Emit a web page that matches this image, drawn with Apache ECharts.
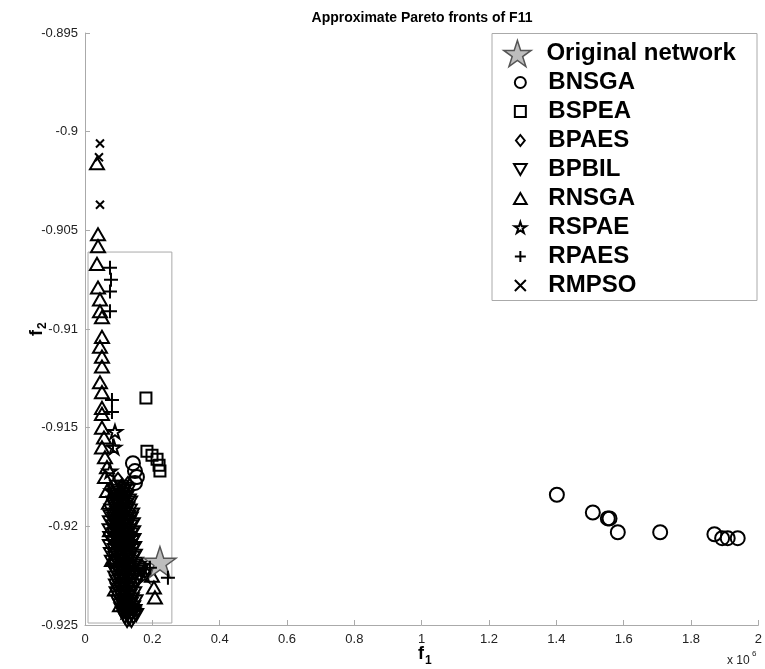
<!DOCTYPE html>
<html>
<head>
<meta charset="utf-8">
<script src="https://cdn.jsdelivr.net/npm/echarts@6/dist/echarts.min.js"></script>
<style>
  html, body { margin: 0; padding: 0; background: #fff; }
  #chart { width: 765px; height: 669px; }
</style>
</head>
<body>
<div id="chart"></div>
<script>
// f1 in units of 10^6, f2
var origNet = [[0.2226, -0.9218]];
var bnsga = [[0.1424, -0.9168], [0.1484, -0.9172], [0.1543, -0.9175], [0.1484, -0.9178],
    [1.4015, -0.9184], [1.5083, -0.9193], [1.5528, -0.9196], [1.5579, -0.9196], [1.5825, -0.9203],
    [1.7083, -0.9203], [1.8694, -0.9204], [1.8923, -0.9206], [1.9089, -0.9206], [1.9386, -0.9206]];
var bspea = [[0.181, -0.9135], [0.184, -0.9162], [0.199, -0.9164], [0.214, -0.9166], [0.220, -0.9169], [0.2226, -0.9172]];
var bpaes = [[0.0979, -0.9176], [0.1098, -0.9179], [0.1217, -0.9183], [0.1039, -0.9184], [0.1187, -0.9187],
    [0.1276, -0.9178], [0.1691, -0.9220], [0.1780, -0.9223]];
var bpbil = [
    [0.095, -0.9180], [0.108, -0.9180], [0.120, -0.9181],
    [0.090, -0.9182], [0.102, -0.9183], [0.115, -0.9182], [0.127, -0.9182],
    [0.088, -0.9184], [0.100, -0.9185], [0.112, -0.9184], [0.124, -0.9185],
    [0.092, -0.9186], [0.105, -0.9187], [0.118, -0.9186], [0.130, -0.9187],
    [0.085, -0.9188], [0.097, -0.9189], [0.110, -0.9188], [0.122, -0.9189], [0.134, -0.9188],
    [0.088, -0.9190], [0.101, -0.9191], [0.113, -0.9190], [0.126, -0.9191],
    [0.078, -0.9192], [0.095, -0.9193], [0.108, -0.9192], [0.120, -0.9193], [0.133, -0.9192],
    [0.076, -0.9195], [0.092, -0.9194], [0.104, -0.9195], [0.117, -0.9194], [0.129, -0.9195], [0.140, -0.9194],
    [0.086, -0.9196], [0.098, -0.9197], [0.111, -0.9196], [0.123, -0.9197], [0.136, -0.9196],
    [0.074, -0.9198], [0.093, -0.9199], [0.105, -0.9198], [0.118, -0.9199], [0.130, -0.9198], [0.142, -0.9199],
    [0.085, -0.9200], [0.097, -0.9201], [0.110, -0.9200], [0.122, -0.9201], [0.135, -0.9200],
    [0.073, -0.9202], [0.093, -0.9203], [0.106, -0.9202], [0.118, -0.9203], [0.131, -0.9202], [0.143, -0.9203],
    [0.087, -0.9204], [0.099, -0.9205], [0.112, -0.9204], [0.124, -0.9205], [0.137, -0.9204],
    [0.075, -0.9206], [0.094, -0.9207], [0.107, -0.9206], [0.119, -0.9207], [0.132, -0.9206], [0.144, -0.9207],
    [0.086, -0.9208], [0.100, -0.9209], [0.113, -0.9208], [0.126, -0.9209], [0.139, -0.9208],
    [0.074, -0.9210], [0.094, -0.9211], [0.107, -0.9210], [0.120, -0.9211], [0.133, -0.9210], [0.146, -0.9211],
    [0.088, -0.9212], [0.101, -0.9213], [0.114, -0.9212], [0.127, -0.9213], [0.140, -0.9212],
    [0.077, -0.9214], [0.096, -0.9215], [0.109, -0.9214], [0.122, -0.9215], [0.135, -0.9214], [0.148, -0.9215],
    [0.090, -0.9216], [0.103, -0.9217], [0.116, -0.9216], [0.129, -0.9217], [0.142, -0.9216],
    [0.080, -0.9218], [0.098, -0.9219], [0.111, -0.9218], [0.124, -0.9219], [0.137, -0.9218], [0.152, -0.9219],
    [0.092, -0.9220], [0.105, -0.9221], [0.118, -0.9220], [0.131, -0.9221], [0.145, -0.9220], [0.160, -0.9221],
    [0.087, -0.9222], [0.100, -0.9223], [0.113, -0.9222], [0.126, -0.9223], [0.140, -0.9222], [0.155, -0.9223], [0.168, -0.9222],
    [0.094, -0.9224], [0.107, -0.9225], [0.120, -0.9224], [0.133, -0.9225], [0.148, -0.9224], [0.162, -0.9225],
    [0.090, -0.9226], [0.103, -0.9227], [0.116, -0.9226], [0.129, -0.9227], [0.143, -0.9226], [0.158, -0.9227],
    [0.095, -0.9228], [0.108, -0.9229], [0.121, -0.9228], [0.134, -0.9229], [0.150, -0.9228],
    [0.092, -0.9230], [0.105, -0.9231], [0.118, -0.9230], [0.131, -0.9231], [0.144, -0.9230],
    [0.097, -0.9232], [0.110, -0.9233], [0.123, -0.9232], [0.136, -0.9233],
    [0.094, -0.9234], [0.107, -0.9235], [0.120, -0.9234], [0.133, -0.9235], [0.146, -0.9234],
    [0.100, -0.9236], [0.113, -0.9237], [0.126, -0.9236], [0.139, -0.9237],
    [0.098, -0.9238], [0.111, -0.9239], [0.124, -0.9238], [0.137, -0.9239], [0.150, -0.9238],
    [0.104, -0.9240], [0.117, -0.9241], [0.130, -0.9240], [0.143, -0.9241],
    [0.108, -0.9242], [0.121, -0.9243], [0.134, -0.9242], [0.147, -0.9243],
    [0.113, -0.9244], [0.126, -0.9245], [0.139, -0.9244], [0.152, -0.9245],
    [0.118, -0.9246], [0.131, -0.9247], [0.144, -0.9246],
    [0.125, -0.9248], [0.138, -0.9248]];
var rnsga = [[0.0356, -0.9016], [0.0386, -0.9052], [0.0386, -0.9058], [0.0356, -0.9067], [0.0386, -0.9079],
    [0.0445, -0.9085], [0.0445, -0.9091], [0.0504, -0.9094], [0.0504, -0.9104], [0.0445, -0.9109],
    [0.0504, -0.9114], [0.0504, -0.9119], [0.0445, -0.9127], [0.0504, -0.9132], [0.0504, -0.9140],
    [0.0504, -0.9143], [0.0504, -0.9150], [0.0564, -0.9155], [0.0504, -0.9160], [0.0593, -0.9165],
    [0.0653, -0.9170], [0.0593, -0.9175], [0.0653, -0.9182], [0.0712, -0.9188], [0.0742, -0.9202],
    [0.0801, -0.9217], [0.0890, -0.9232], [0.1039, -0.9240], [0.1988, -0.9225], [0.2047, -0.9231],
    [0.2077, -0.9236]];
var rspae = [[0.0890, -0.9152], [0.0861, -0.9160], [0.0742, -0.9172], [0.0801, -0.9182], [0.1039, -0.9197],
    [0.1187, -0.9217], [0.1276, -0.9237], [0.1217, -0.9243], [0.1424, -0.9242], [0.1780, -0.9225]];
var rpaes = [[0.0742, -0.9069], [0.0772, -0.9075], [0.0742, -0.9081], [0.0742, -0.9091], [0.0801, -0.9136],
    [0.0801, -0.9142], [0.0831, -0.9159], [0.0890, -0.9195], [0.1187, -0.9210], [0.1929, -0.9221],
    [0.2463, -0.9226]];
var rmpso = [[0.0445, -0.9006], [0.0415, -0.9013], [0.0445, -0.9037], [0.0890, -0.9200], [0.1039, -0.9220]];
var zoomBox = [[0.009, -0.9061], [0.258, -0.9061], [0.258, -0.9249], [0.009, -0.9249], [0.009, -0.9061]];

var names = ['Original network', 'BNSGA', 'BSPEA', 'BPAES', 'BPBIL', 'RNSGA', 'RSPAE', 'RPAES', 'RMPSO'];

var font = '"Liberation Sans", Arial, Helvetica, sans-serif';
var starPath = 'path://M50,0L61.23,34.55L97.55,34.55L68.16,55.9L79.39,90.45L50,69.1L20.61,90.45L31.84,55.9L2.45,34.55L38.77,34.55Z';
var circlePath = 'path://M0,5A5,5,0,1,1,10,5A5,5,0,1,1,0,5Z';
var rectPath = 'path://M0,0L10,0L10,10L0,10Z';
var diamondPath = 'path://M4,0L8,5L4,10L0,5Z';
var upPath = 'path://M5,0L10,8.66L0,8.66Z';
var downPath = 'path://M0,0L10,0L5,8.66Z';
var plusPath = 'path://M5,0L5,10M0,5L10,5';
var crossPath = 'path://M0,0L10,10M0,10L10,0';

function hollow(name, data, symbol, size) {
    return {
        name: name,
        type: 'scatter',
        data: data,
        symbol: symbol,
        symbolSize: size,
        symbolKeepAspect: true,
        itemStyle: { color: 'rgba(0,0,0,0)', borderColor: '#000', borderWidth: 2, opacity: 1 },
        emphasis: { disabled: true }
    };
}

var chart = echarts.init(document.getElementById('chart'));

var option = {
    animation: false,
    backgroundColor: '#fff',
    grid: { left: 85, right: 6, top: 33, bottom: 44 },
    xAxis: {
        type: 'value',
        min: 0, max: 2, interval: 0.2,
        axisLine: { show: true, lineStyle: { color: '#aaa', width: 1 } },
        axisTick: { show: true, inside: true, length: 5, lineStyle: { color: '#aaa' } },
        axisLabel: {
            color: '#222', fontSize: 13, fontFamily: font, margin: 8,
            formatter: function (v) { return String(parseFloat(v.toFixed(1))); }
        },
        splitLine: { show: false }
    },
    yAxis: {
        type: 'value',
        min: -0.925, max: -0.895, interval: 0.005,
        axisLine: { show: true, lineStyle: { color: '#aaa', width: 1 } },
        axisTick: { show: true, inside: true, length: 5, lineStyle: { color: '#aaa' } },
        axisLabel: {
            color: '#222', fontSize: 13, fontFamily: font, margin: 7,
            formatter: function (v) { return String(parseFloat(v.toFixed(3))); }
        },
        splitLine: { show: false }
    },
    legend: [{
        data: ['Original network'],
        left: 498, top: 34,
        itemWidth: 48, itemHeight: 26,
        itemGap: 0,
        symbolKeepAspect: true,
        selectedMode: false,
        itemStyle: { borderWidth: 1.5 },
        textStyle: { fontSize: 24, fontWeight: 'bold', fontFamily: font, color: '#000', lineHeight: 29 }
    }, {
        data: names.slice(1),
        orient: 'vertical',
        left: 508, top: 63,
        itemWidth: 46, itemHeight: 11,
        itemGap: 0,
        symbolKeepAspect: true,
        selectedMode: false,
        itemStyle: { borderWidth: 2 },
        textStyle: { fontSize: 24, fontWeight: 'bold', fontFamily: font, color: '#000', lineHeight: 29 }
    }],
    graphic: [
        { type: 'rect', silent: true, shape: { x: 492, y: 33.5, width: 265, height: 267 },
          style: { fill: 'none', stroke: '#aaa', lineWidth: 1 } },
        { type: 'text', silent: true, x: 422, y: 18,
          style: { text: 'Approximate Pareto fronts of F11', fontSize: 14, fontWeight: 'bold', fontFamily: font,
                   fill: '#000', textAlign: 'center', textVerticalAlign: 'middle' } },
        { type: 'text', silent: true, x: 424, y: 654,
          style: { text: 'f', fontSize: 18, fontWeight: 'bold', fontFamily: font, fill: '#000',
                   textAlign: 'right', textVerticalAlign: 'middle' } },
        { type: 'text', silent: true, x: 425, y: 661,
          style: { text: '1', fontSize: 12, fontWeight: 'bold', fontFamily: font, fill: '#000',
                   textAlign: 'left', textVerticalAlign: 'middle' } },
        { type: 'text', silent: true, x: 37, y: 330, rotation: Math.PI / 2,
          style: { text: 'f', fontSize: 18, fontWeight: 'bold', fontFamily: font, fill: '#000',
                   textAlign: 'right', textVerticalAlign: 'middle' } },
        { type: 'text', silent: true, x: 43, y: 329, rotation: Math.PI / 2,
          style: { text: '2', fontSize: 12, fontWeight: 'bold', fontFamily: font, fill: '#000',
                   textAlign: 'left', textVerticalAlign: 'middle' } },
        { type: 'text', silent: true, x: 727, y: 661,
          style: { text: 'x 10', fontSize: 12, fontFamily: font, fill: '#222', textAlign: 'left', textVerticalAlign: 'middle' } },
        { type: 'text', silent: true, x: 752, y: 654,
          style: { text: '6', fontSize: 8, fontFamily: font, fill: '#222', textAlign: 'left', textVerticalAlign: 'middle' } }
    ],
    series: [
        {
            name: 'zoom box', type: 'line', data: zoomBox, symbol: 'none', silent: true, z: 1,
            lineStyle: { color: '#aaa', width: 1 }
        },
        hollow('BNSGA', bnsga, circlePath, 14),
        hollow('BSPEA', bspea, rectPath, 11),
        hollow('BPAES', bpaes, diamondPath, 12),
        hollow('BPBIL', bpbil, downPath, 14),
        hollow('RNSGA', rnsga, upPath, 14),
        hollow('RSPAE', rspae, starPath, 14),
        {
            name: 'Original network', type: 'scatter', data: origNet,
            symbol: starPath, symbolSize: 32, symbolKeepAspect: true,
            itemStyle: { color: '#bdbdbd', borderColor: '#555', borderWidth: 1.5, opacity: 1 },
            emphasis: { disabled: true }
        },
        hollow('RPAES', rpaes, plusPath, 14),
        hollow('RMPSO', rmpso, crossPath, 8)
    ]
};

chart.setOption(option);
</script>
</body>
</html>
